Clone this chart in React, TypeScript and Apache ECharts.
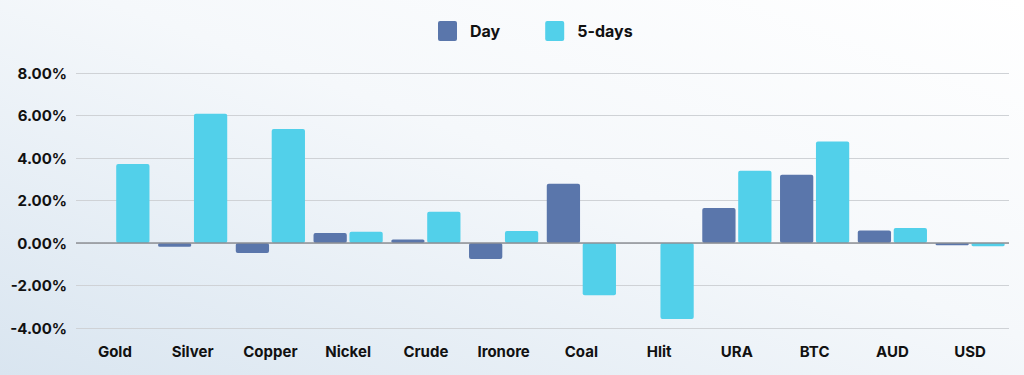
import React, { useEffect, useRef } from "react";
import * as echarts from "echarts";

const categories = ["Gold", "Silver", "Copper", "Nickel", "Crude", "Ironore", "Coal", "Hlit", "URA", "BTC", "AUD", "USD"];
const dayValues = [0, -0.18, -0.47, 0.47, 0.16, -0.75, 2.79, 0, 1.65, 3.21, 0.59, -0.1];
const fiveDayValues = [3.72, 6.08, 5.36, 0.53, 1.47, 0.56, -2.46, -3.58, 3.4, 4.78, 0.71, -0.15];
const seriesNames = ["Day", "5-days"];

const FONT = "Inter, 'Noto Sans', sans-serif";

export default function App() {
  const ref = useRef<HTMLDivElement>(null);
  useEffect(() => {
    if (!ref.current) return;
    const chart = echarts.init(ref.current, null, { renderer: "svg" });
    chart.setOption({
      animation: false,
      backgroundColor: new echarts.graphic.LinearGradient(0, 1, 1, 0, [
        { offset: 0, color: "#d9e5f0" },
        { offset: 0.55, color: "#f5f8fb" },
        { offset: 1, color: "#ffffff" },
      ]),
      legend: {
        top: 16,
        left: 433,
        itemWidth: 19,
        itemHeight: 20,
        itemGap: 45,
        icon: "path://M2,0H17Q19,0 19,2V18Q19,20 17,20H2Q0,20 0,18V2Q0,0 2,0Z",
        textStyle: { fontFamily: FONT, fontWeight: "bold", fontSize: 16, color: "#111", padding: [0, 0, 0, 8] },
        data: seriesNames,
      },
      grid: { left: 76, right: 15, top: 73, bottom: 47, containLabel: false },
      xAxis: {
        type: "category",
        data: categories,
        axisLine: { show: false },
        axisTick: { show: false },
        axisLabel: {
          interval: 0,
          fontFamily: FONT,
          fontWeight: "bold",
          fontSize: 15,
          color: "#111",
          margin: 12,
          verticalAlign: "top",
          lineHeight: 16,
          padding: [3, 0, 0, 0],
        },
      },
      yAxis: {
        type: "value",
        min: -4,
        max: 8,
        interval: 2,
        axisLine: { show: false },
        axisTick: { show: false },
        splitLine: { lineStyle: { color: "#cfd2d6", width: 1.2 } },
        axisLabel: {
          formatter: (v: number) => v.toFixed(2) + "%",
          fontFamily: FONT,
          fontWeight: "bold",
          fontSize: 15,
          color: "#111",
          margin: 9,
        },
      },
      series: [
        {
          name: seriesNames[0],
          type: "bar",
          data: dayValues,
          barGap: "8%",
          barCategoryGap: "11%",
          itemStyle: { color: "#5a76ab", borderRadius: 2 },
          markLine: {
            silent: true,
            symbol: "none",
            label: { show: false },
            lineStyle: { color: "#8e9196", type: "solid", width: 1.5 },
            data: [{ yAxis: 0 }],
          },
        },
        {
          name: seriesNames[1],
          type: "bar",
          data: fiveDayValues,
          itemStyle: { color: "#52d0ea", borderRadius: 2 },
        },
      ],
    });
    return () => chart.dispose();
  }, []);
  return <div ref={ref} style={{ position: "absolute", left: 0, top: 0, width: 1024, height: 375 }} />;
}
